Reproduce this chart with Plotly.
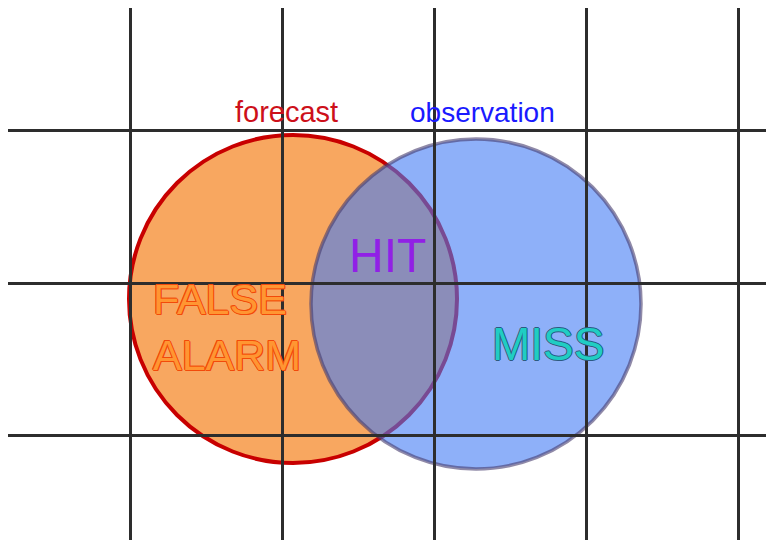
import plotly.graph_objects as go

# Grid positions (pixel-like data units)
grid_x = [130, 282, 434, 586, 738]
grid_y = [130, 283, 435]

# Sets drawn as circles
set_names = ["forecast", "observation"]
set_cx = [293, 476]
set_cy = [299, 304]
set_r = [164, 165]
set_fill = ["rgb(248,167,96)", "rgba(66,124,245,0.6)"]
set_line = ["rgb(200,0,0)", "rgba(70,60,110,0.6)"]
set_line_w = [4, 3.5]

# Set titles
title_text = ["forecast", "observation"]
title_x = [286, 482]
title_y = [112, 112]
title_color = ["rgb(205,16,26)", "rgb(26,26,255)"]

# Region labels
region_text = ["HIT", "FALSE<br>ALARM", "MISS"]
region_x = [387, 151, 548]
region_y = [255, 327, 344]

fig = go.Figure()
fig.add_trace(go.Scatter(x=[None], y=[None], mode="markers", showlegend=False, hoverinfo="skip"))

for i in range(len(set_names)):
    fig.add_shape(
        type="circle", xref="x", yref="y", layer="below",
        x0=set_cx[i] - set_r[i], x1=set_cx[i] + set_r[i],
        y0=set_cy[i] - set_r[i], y1=set_cy[i] + set_r[i],
        fillcolor=set_fill[i],
        line=dict(color=set_line[i], width=set_line_w[i]),
    )

for i in range(len(title_text)):
    fig.add_annotation(
        x=title_x[i], y=title_y[i], text=title_text[i], showarrow=False,
        xanchor="center", yanchor="middle",
        font=dict(family="Liberation Sans, Arial", size=29 if i == 0 else 28, color=title_color[i]),
    )

# HIT
fig.add_annotation(
    x=region_x[0], y=region_y[0], text=region_text[0], showarrow=False,
    xanchor="center", yanchor="middle",
    font=dict(family="Liberation Sans, Arial", size=48, color="rgb(145,32,230)"),
)
# FALSE ALARM (outlined orange)
fig.add_annotation(
    x=region_x[1], y=region_y[1], text=region_text[1], showarrow=False,
    xanchor="left", yanchor="middle", align="left",
    font=dict(family="Liberation Sans, Arial", size=43, color="rgb(255,150,50)",
              shadow="1px 0 0 #f24a0a, -1px 0 0 #f24a0a, 0 1px 0 #f24a0a, 0 -1px 0 #f24a0a, 1px 1px 0 #f24a0a, -1px -1px 0 #f24a0a"),
)
# MISS (outlined teal)
fig.add_annotation(
    x=region_x[2], y=region_y[2], text=region_text[2], showarrow=False,
    xanchor="center", yanchor="middle",
    font=dict(family="Liberation Sans, Arial", size=46, color="rgb(32,205,195)",
              shadow="1px 0 0 #2c5a80, -1px 0 0 #2c5a80, 0 1px 0 #2c5a80, 0 -1px 0 #2c5a80"),
)

axis_common = dict(showticklabels=False, ticks="", zeroline=False, showline=False,
                   showgrid=True, gridcolor="rgb(45,45,45)", gridwidth=3, fixedrange=True)
fig.update_xaxes(range=[8, 782], tickvals=grid_x, **axis_common)
fig.update_yaxes(range=[548, 8], tickvals=grid_y, **axis_common)

fig.update_layout(
    width=774, height=540, autosize=False,
    margin=dict(l=0, r=0, t=0, b=0, pad=0),
    paper_bgcolor="white", plot_bgcolor="white",
    showlegend=False,
)

fig.write_html("out.html")
